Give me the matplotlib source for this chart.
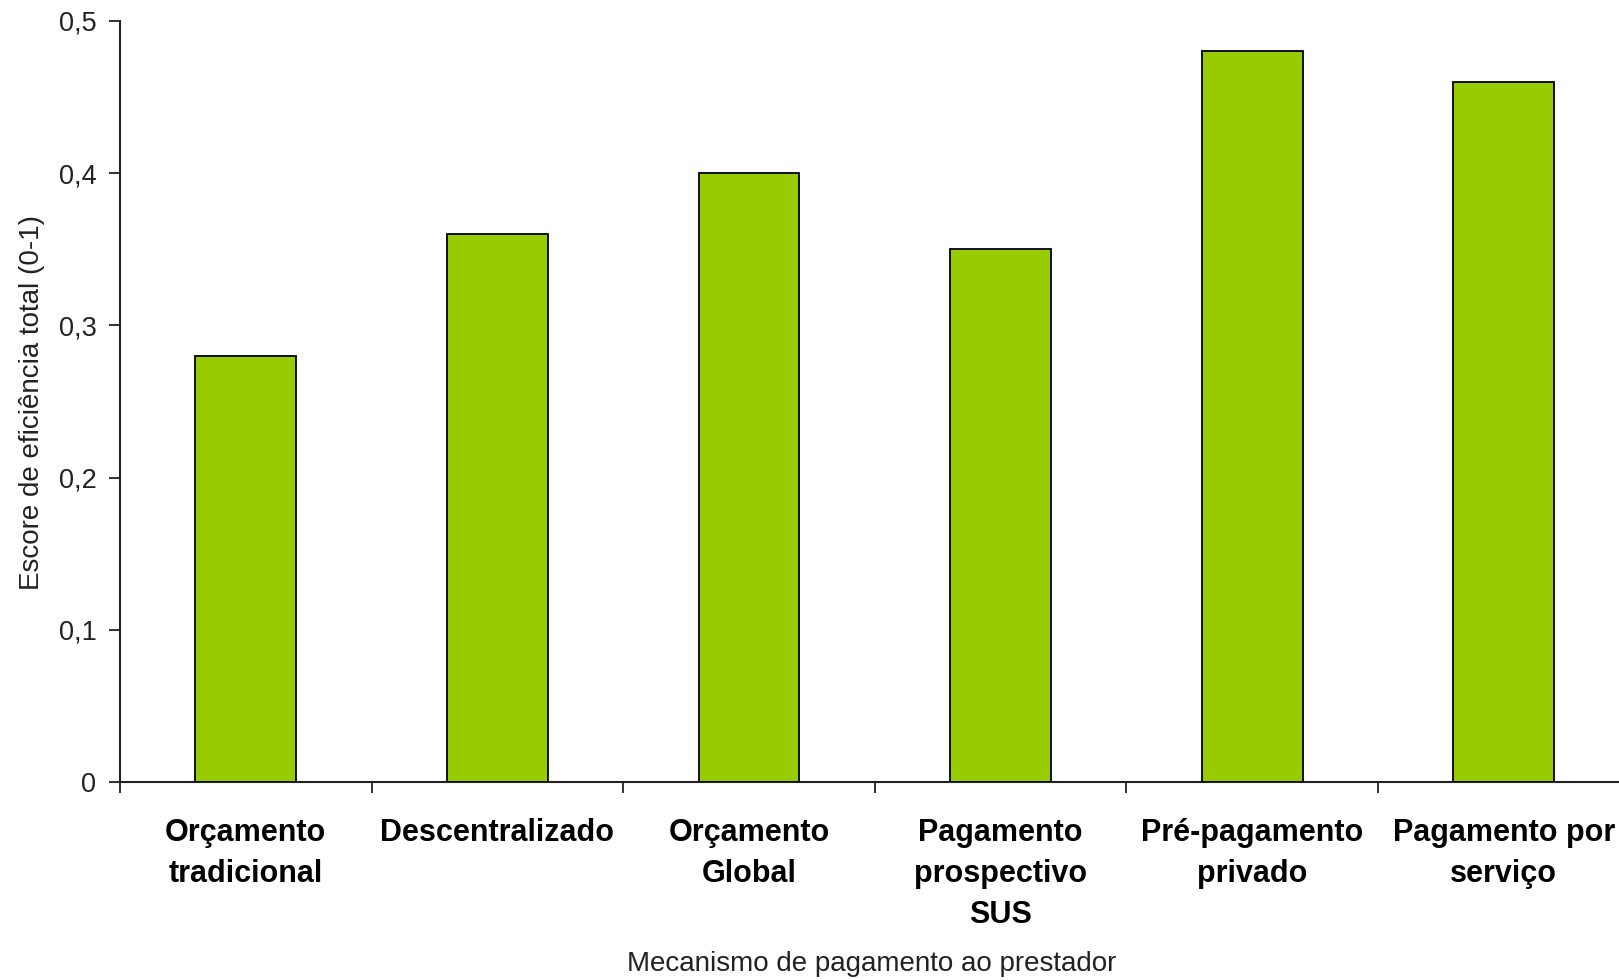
import matplotlib.pyplot as plt
import numpy as np

# dados
categorias = ["Orçamento\ntradicional", "Descentralizado", "Orçamento\nGlobal",
              "Pagamento\nprospectivo\nSUS", "Pré-pagamento\nprivado", "Pagamento por\nserviço"]
escores = [0.28, 0.36, 0.40, 0.35, 0.48, 0.46]
yticks = [0, 0.1, 0.2, 0.3, 0.4, 0.5]
ytick_labels = ["0", "0,1", "0,2", "0,3", "0,4", "0,5"]

plt.rcParams["font.family"] = ["Liberation Sans", "DejaVu Sans"]

W, H = 1619, 980
fig = plt.figure(figsize=(W / 100, H / 100), dpi=100)
left, bottom, top = 120, 782, 21
ax = fig.add_axes([left / W, (H - bottom) / H, (W - left) / W, (bottom - top) / H])

x = np.arange(len(categorias))
ax.bar(x, escores, width=0.4, color="#99CC00", edgecolor="black", linewidth=1.3, zorder=3)

ax.set_xticks(np.arange(len(categorias)) - 0.5, minor=False)
ax.set_xticklabels([])
ax.set_xticks(x, minor=True)
ax.set_xticklabels(categorias, minor=True, fontsize=22, fontweight="bold", linespacing=1.48)
ax.tick_params(axis="x", which="major", direction="out", length=8, width=1.3, color="#222222")
ax.tick_params(axis="x", which="minor", length=0, pad=26)

# limites depois dos ticks (set_xticks pode expandir a vista)
cat_w = 251.6
ax.set_xlim(-0.5, -0.5 + (W - left) / cat_w)
ax.set_ylim(0, 0.5)

ax.set_yticks(yticks)
ax.set_yticklabels(ytick_labels, fontsize=19.5, color="#222222")
ax.tick_params(axis="y", direction="out", length=8, width=1.3, color="#222222", pad=9)

for s in ["top", "right"]:
    ax.spines[s].set_visible(False)
for s in ["left", "bottom"]:
    ax.spines[s].set_linewidth(1.5)
    ax.spines[s].set_color("#222222")

fig.text(32 / W, 1 - 402 / H, "Escore de eficiência total (0-1)", rotation=90,
         ha="center", va="center", fontsize=20, color="#222222")
fig.text(872 / W, 1 - 964 / H, "Mecanismo de pagamento ao prestador",
         ha="center", va="center", fontsize=20, color="#222222")

fig.savefig("out.png", dpi=100)
